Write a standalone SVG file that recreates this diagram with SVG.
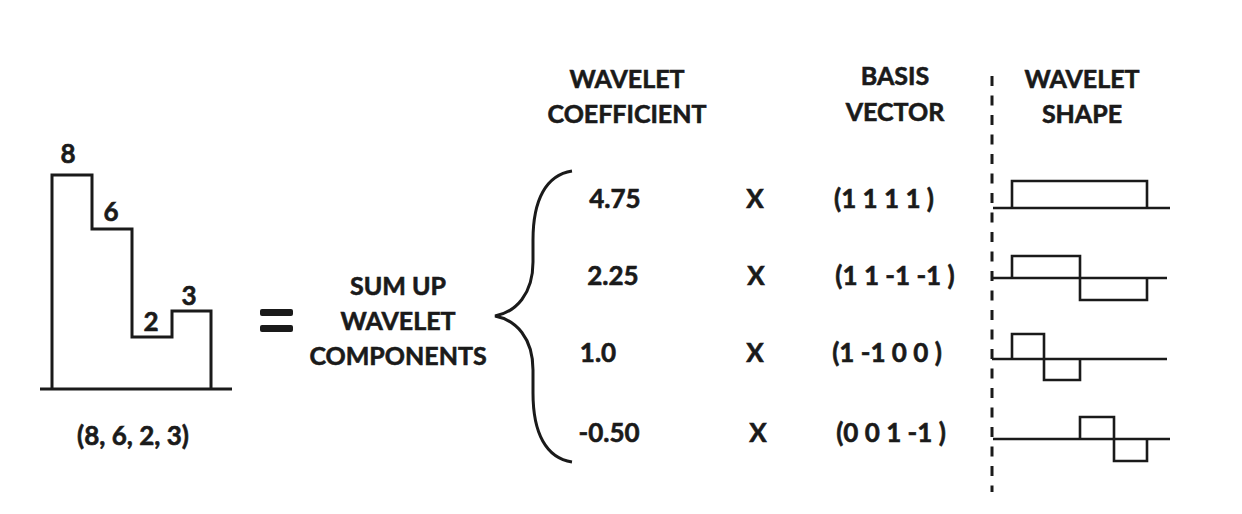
<svg xmlns="http://www.w3.org/2000/svg" width="1242" height="514" viewBox="0 0 1242 514">
<style>
text{font-family:Lato,"Open Sans","Liberation Sans",sans-serif;font-weight:700;font-size:25px;fill:#1a1a1a;stroke:#1a1a1a;stroke-width:0.6;text-anchor:middle}
.num{font-size:26px}
.ln{fill:none;stroke:#1a1a1a;stroke-width:3;stroke-linejoin:miter;stroke-linecap:butt}
.wv{fill:none;stroke:#1a1a1a;stroke-width:2.6}
</style>
<rect width="1242" height="514" fill="#fff"/>
<g id="signal">
<line class="ln" x1="40" y1="389" x2="232" y2="389"/>
<polyline class="ln" points="52,389 52,175 92,175 92,229 132,229 132,337 172,337 172,311 211,311 211,389"/>
<text class="num" x="68" y="163">8</text>
<text class="num" x="111" y="221">6</text>
<text class="num" x="151" y="331">2</text>
<text class="num" x="189" y="305">3</text>
<text class="num" x="133" y="445">(8, 6, 2, 3)</text>
</g>
<g id="equals">
<rect x="260" y="309" width="33" height="7" rx="2" fill="#1a1a1a"/>
<rect x="260" y="325" width="33" height="7" rx="2" fill="#1a1a1a"/>
</g>
<g id="sum">
<text x="398" y="295">SUM UP</text>
<text x="398" y="330">WAVELET</text>
<text x="398" y="365">COMPONENTS</text>
</g>
<g id="brace">
<path class="ln" stroke-width="4" d="M572,171 C546,175 533,200 533,240 L533,262 C533,294 516,312 495,316 C516,320 533,338 533,370 L533,393 C533,433 546,458 572,462"/>
</g>
<g id="headers">
<text x="627" y="88">WAVELET</text>
<text x="627" y="123">COEFFICIENT</text>
<text x="895" y="85">BASIS</text>
<text x="895" y="121">VECTOR</text>
<text x="1082" y="88">WAVELET</text>
<text x="1082" y="123">SHAPE</text>
</g>
<g id="row1">
<text class="num" x="615" y="208">4.75</text>
<text class="num" x="755" y="208">X</text>
<text class="num" x="884" y="208">(1 1 1 1 )</text>
</g>
<g id="row2">
<text class="num" x="613" y="285">2.25</text>
<text class="num" x="756" y="285">X</text>
<text class="num" x="895" y="285">(1 1 -1 -1 )</text>
</g>
<g id="row3">
<text class="num" x="598" y="362">1.0</text>
<text class="num" x="755" y="362">X</text>
<text class="num" x="887" y="362">(1 -1 0 0 )</text>
</g>
<g id="row4">
<text class="num" x="609" y="442">-0.50</text>
<text class="num" x="758" y="442">X</text>
<text class="num" x="891" y="442">(0 0 1 -1 )</text>
</g>
<g id="divider">
<line x1="992" y1="76" x2="992" y2="492" stroke="#1a1a1a" stroke-width="3" stroke-dasharray="10 9.5"/>
</g>
<g id="shape1">
<line class="wv" x1="993" y1="208" x2="1170" y2="208"/>
<polyline class="wv" points="1012,208 1012,181 1147,181 1147,208"/>
</g>
<g id="shape2">
<line class="wv" x1="992" y1="278" x2="1167" y2="278"/>
<polyline class="wv" points="1012,278 1012,256 1080,256 1080,300 1147,300 1147,278"/>
</g>
<g id="shape3">
<line class="wv" x1="992" y1="359" x2="1167" y2="359"/>
<polyline class="wv" points="1012,359 1012,334 1044,334 1044,380 1080,380 1080,359"/>
</g>
<g id="shape4">
<line class="wv" x1="993" y1="439" x2="1170" y2="439"/>
<polyline class="wv" points="1080,439 1080,417 1114,417 1114,461 1147,461 1147,439"/>
</g>
</svg>
